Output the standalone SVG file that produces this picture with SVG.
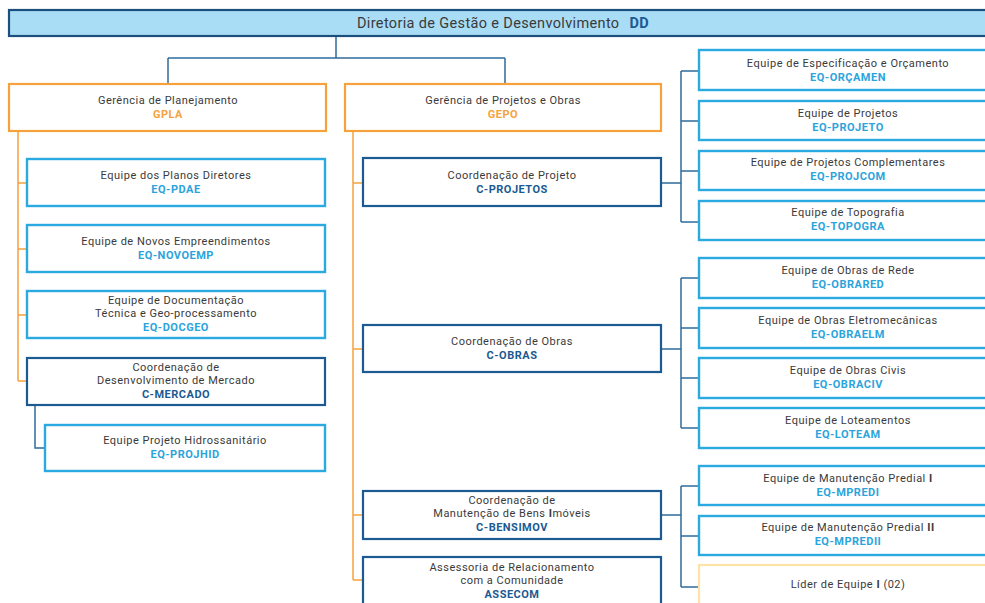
<svg xmlns="http://www.w3.org/2000/svg" width="985" height="603" viewBox="0 0 985 603">
<style>
.bg{fill:#ffffff}
.top{fill:#a9dcf5;stroke:#1d4f7e;stroke-width:2.2}
.ger{fill:#fff;stroke:#f6a23c;stroke-width:2.2}
.coo{fill:#fff;stroke:#1b5a92;stroke-width:2.2}
.eq{fill:#fff;stroke:#2ba9e1;stroke-width:2.4}
.lid{fill:#fff;stroke:#fde3a6;stroke-width:2.2}
.lo{fill:none;stroke:#f6a23c;stroke-width:1.5}
.lb{fill:none;stroke:#2f6b9c;stroke-width:1.5}
text{font-family:Roboto,"Liberation Sans",sans-serif;font-size:11px;letter-spacing:0.5px;fill:#3a3a3a;text-anchor:middle}
.tt{font-size:14.5px;letter-spacing:0.35px}
.b{font-weight:bold}
.ce{font-weight:bold;fill:#2ba4dc}
.cd{font-weight:bold;fill:#1b5a92}
.cg{font-weight:bold;fill:#f6a23c}
</style>
<rect class="bg" x="0" y="0" width="985" height="603"/>
<g id="connectors">
<path class="lb" d="M336 36V58M168 58H505M168 58V84M505 58V84"/>
<path class="lo" d="M18 131V381M18 183H27M18 249H27M18 315H27M18 381H27"/>
<path class="lb" d="M35 406V448H45"/>
<path class="lo" d="M353 131V580M353 183H363M353 349H363M353 515H363M353 580H363"/>
<path class="lb" d="M661 183H681M681 71V222M681 71H699M681 121H699M681 171H699M681 222H699"/>
<path class="lb" d="M661 349H681M681 278V428M681 278H699M681 328H699M681 378H699M681 428H699"/>
<path class="lb" d="M661 515H681M681 486V587M681 486H699M681 536H699M681 587H699"/>
</g>
<g id="dd"><rect class="top" x="9" y="10" width="990" height="26"/>
<text class="tt" x="503" y="28">Diretoria de Gestão e Desenvolvimento <tspan class="cd" dx="6">DD</tspan></text></g>
<g id="gpla"><rect class="ger" x="9" y="84" width="317" height="47"/>
<text x="168" y="104">Gerência de Planejamento</text><text class="cg" x="168" y="118">GPLA</text></g>
<g id="gepo"><rect class="ger" x="345" y="84" width="316" height="47"/>
<text x="503" y="104">Gerência de Projetos e Obras</text><text class="cg" x="503" y="118">GEPO</text></g>
<g id="eq-pdae"><rect class="eq" x="27" y="159" width="298" height="47"/>
<text x="176" y="179">Equipe dos Planos Diretores</text><text class="ce" x="176" y="193">EQ-PDAE</text></g>
<g id="eq-novoemp"><rect class="eq" x="27" y="225" width="298" height="47"/>
<text x="176" y="245">Equipe de Novos Empreendimentos</text><text class="ce" x="176" y="259">EQ-NOVOEMP</text></g>
<g id="eq-docgeo"><rect class="eq" x="27" y="291" width="298" height="47"/>
<text x="176" y="304">Equipe de Documentação</text><text x="176" y="317">Técnica e Geo-processamento</text><text class="ce" x="176" y="331">EQ-DOCGEO</text></g>
<g id="c-mercado"><rect class="coo" x="27" y="358" width="298" height="47"/>
<text x="176" y="371">Coordenação de</text><text x="176" y="384">Desenvolvimento de Mercado</text><text class="cd" x="176" y="398">C-MERCADO</text></g>
<g id="eq-projhid"><rect class="eq" x="45" y="425" width="280" height="46"/>
<text x="185" y="444">Equipe Projeto Hidrossanitário</text><text class="ce" x="185" y="458">EQ-PROJHID</text></g>
<g id="c-projetos"><rect class="coo" x="363" y="158" width="298" height="48"/>
<text x="512" y="179">Coordenação de Projeto</text><text class="cd" x="512" y="193">C-PROJETOS</text></g>
<g id="c-obras"><rect class="coo" x="363" y="325" width="298" height="47"/>
<text x="512" y="345">Coordenação de Obras</text><text class="cd" x="512" y="359">C-OBRAS</text></g>
<g id="c-bensimov"><rect class="coo" x="363" y="491" width="298" height="48"/>
<text x="512" y="504">Coordenação de</text><text x="512" y="517">Manutenção de Bens <tspan class="b">I</tspan>móveis</text><text class="cd" x="512" y="531">C-BENSIMOV</text></g>
<g id="assecom"><rect class="coo" x="363" y="557" width="298" height="60"/>
<text x="512" y="571">Assessoria de Relacionamento</text><text x="512" y="584">com a Comunidade</text><text class="cd" x="512" y="598">ASSECOM</text></g>
<g id="eq-orcamen"><rect class="eq" x="699" y="50" width="300" height="40"/>
<text x="848" y="67">Equipe de Especificação e Orçamento</text><text class="ce" x="848" y="81">EQ-ORÇAMEN</text></g>
<g id="eq-projeto"><rect class="eq" x="699" y="101" width="300" height="39"/>
<text x="848" y="117">Equipe de Projetos</text><text class="ce" x="848" y="131">EQ-PROJETO</text></g>
<g id="eq-projcom"><rect class="eq" x="699" y="151" width="300" height="39"/>
<text x="848" y="166">Equipe de Projetos Complementares</text><text class="ce" x="848" y="180">EQ-PROJCOM</text></g>
<g id="eq-topogra"><rect class="eq" x="699" y="201" width="300" height="39"/>
<text x="848" y="216">Equipe de Topografia</text><text class="ce" x="848" y="230">EQ-TOPOGRA</text></g>
<g id="eq-obrared"><rect class="eq" x="699" y="258" width="300" height="40"/>
<text x="848" y="274">Equipe de Obras de Rede</text><text class="ce" x="848" y="288">EQ-OBRARED</text></g>
<g id="eq-obraelm"><rect class="eq" x="699" y="308" width="300" height="40"/>
<text x="848" y="324">Equipe de Obras Eletromecânicas</text><text class="ce" x="848" y="338">EQ-OBRAELM</text></g>
<g id="eq-obraciv"><rect class="eq" x="699" y="358" width="300" height="40"/>
<text x="848" y="374">Equipe de Obras Civis</text><text class="ce" x="848" y="388">EQ-OBRACIV</text></g>
<g id="eq-loteam"><rect class="eq" x="699" y="408" width="300" height="40"/>
<text x="848" y="424">Equipe de Loteamentos</text><text class="ce" x="848" y="438">EQ-LOTEAM</text></g>
<g id="eq-mpredi"><rect class="eq" x="699" y="466" width="300" height="39"/>
<text x="848" y="482">Equipe de Manutenção Predial <tspan class="b">I</tspan></text><text class="ce" x="848" y="496">EQ-MPREDI</text></g>
<g id="eq-mpredii"><rect class="eq" x="699" y="516" width="300" height="39"/>
<text x="848" y="531">Equipe de Manutenção Predial <tspan class="b">II</tspan></text><text class="ce" x="848" y="545">EQ-MPREDII</text></g>
<g id="lider"><rect class="lid" x="699" y="565" width="300" height="50"/>
<text x="848" y="588">Líder de Equipe <tspan class="b">I</tspan> (02)</text></g>
</svg>
